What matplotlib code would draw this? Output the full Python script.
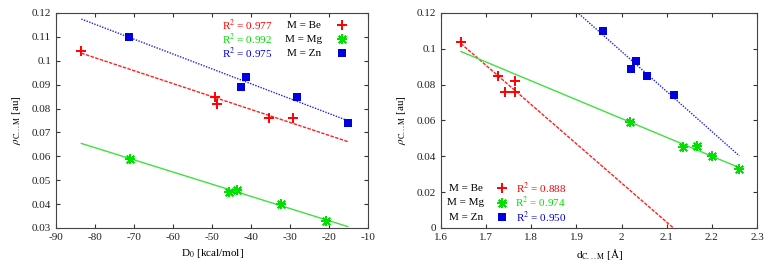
import matplotlib
matplotlib.use("Agg")
import matplotlib.pyplot as plt
import matplotlib.ticker as mticker
import numpy as np

plt.rcParams["font.family"] = ["Liberation Serif", "DejaVu Serif"]
plt.rcParams["mathtext.fontset"] = "stix"
plt.rcParams["font.size"] = 8

# left panel: D0 [kcal/mol] vs rho
d0_be = [-83.5, -49.3, -48.7, -35.4, -29.2]
rho_be = [0.104, 0.085, 0.082, 0.076, 0.076]
d0_mg = [-71.0, -45.6, -43.7, -32.2, -20.9]
rho_mg = [0.059, 0.045, 0.046, 0.040, 0.033]
d0_zn = [-71.3, -42.6, -41.2, -28.3, -15.2]
rho_zn = [0.110, 0.089, 0.093, 0.085, 0.074]

# right panel: d C...M [A] vs rho
dist_be = [1.644, 1.726, 1.764, 1.742, 1.764]
dist_mg = [2.019, 2.137, 2.167, 2.200, 2.261]
dist_zn = [1.959, 2.021, 2.032, 2.057, 2.117]

r2_left = ["0.977", "0.992", "0.975"]
r2_right = ["0.888", "0.974", "0.950"]
metals = ["Be", "Mg", "Zn"]

colors = ["#ff0000", "#00e000", "#0000e0"]
line_colors = ["#ff2020", "#40e040", "#2020e0"]
line_styles = [(0, (2.5, 1)), "-", (0, (1, 1))]
markers = [dict(marker="+", ms=7, mew=1.4),
           dict(marker=(4, 2, 0), ms=7.5, mew=1.1),
           dict(marker="s", ms=6, mew=0)]
markers_x = dict(marker=(4, 2, 45), ms=7.5, mew=1.1)


def style_axes(ax):
    ax.tick_params(direction="in", top=True, right=True, length=3, labelsize=8,
                   colors="#333333", labelcolor="#222222")
    for s in ax.spines.values():
        s.set_color("#444444")
        s.set_linewidth(0.8)
    ax.xaxis.set_major_formatter(mticker.FormatStrFormatter("%g"))
    ax.yaxis.set_major_formatter(mticker.FormatStrFormatter("%g"))


def put_marker(ax, x, y, i, **kw):
    # gnuplot's asterisk is a plus and a cross drawn on top of each other
    ax.plot(x, y, ls="none", color=colors[i], mec=colors[i], mfc=colors[i],
            **markers[i], **kw)
    if i == 1:
        ax.plot(x, y, ls="none", color=colors[i], mec=colors[i], **markers_x, **kw)


def draw_panel(ax, xs, ys):
    x_all = np.concatenate([np.asarray(x) for x in xs])
    x_line = np.linspace(x_all.min(), x_all.max(), 200)
    for i, (x, y) in enumerate(zip(xs, ys)):
        m, b = np.polyfit(x, y, 1)
        ax.plot(x_line, m * x_line + b, color=line_colors[i], lw=1.0,
                ls=line_styles[i], zorder=2)
        put_marker(ax, x, y, i, zorder=3)


fig = plt.figure(figsize=(7.68, 2.64), dpi=100)
ax1 = fig.add_axes([0.0729, 0.1364, 0.4063, 0.8144])
ax2 = fig.add_axes([0.5742, 0.1364, 0.4115, 0.8144])

draw_panel(ax1, [d0_be, d0_mg, d0_zn], [rho_be, rho_mg, rho_zn])
ax1.set_xlim(-90, -10)
ax1.set_ylim(0.03, 0.12)
ax1.set_xticks(np.arange(-90, -9, 10))
ax1.set_yticks(np.arange(0.03, 0.1201, 0.01))
ax1.set_xlabel(r"D$_0$ [kcal/mol]", fontsize=8)
ax1.set_ylabel(r"$\rho_{\mathrm{C...M}}$ [au]", fontsize=8, labelpad=6)
style_axes(ax1)

rows_l = [0.944, 0.878, 0.812]
for i in range(3):
    ax1.text(0.612, rows_l[i], r"R$^2$ = " + r2_left[i], color=colors[i],
             transform=ax1.transAxes, ha="center", va="center", fontsize=8)
    ax1.text(0.795, rows_l[i], f"M = {metals[i]}", transform=ax1.transAxes,
             ha="center", va="center", fontsize=8)
    put_marker(ax1, [0.917], [rows_l[i]], i, transform=ax1.transAxes,
               clip_on=False)

draw_panel(ax2, [dist_be, dist_mg, dist_zn], [rho_be, rho_mg, rho_zn])
ax2.set_xlim(1.6, 2.3)
ax2.set_ylim(0, 0.12)
ax2.set_xticks(np.arange(1.6, 2.301, 0.1))
ax2.set_yticks(np.arange(0, 0.1201, 0.02))
ax2.set_xlabel(r"d$_{\mathrm{C...M}}$ [Å]", fontsize=8)
ax2.set_ylabel(r"$\rho_{\mathrm{C...M}}$ [au]", fontsize=8, labelpad=6)
style_axes(ax2)

rows_r = [0.186, 0.118, 0.051]
for i in range(3):
    ax2.text(0.079, rows_r[i], f"M = {metals[i]}", transform=ax2.transAxes,
             ha="center", va="center", fontsize=8)
    put_marker(ax2, [0.193], [rows_r[i]], i, transform=ax2.transAxes)
    ax2.text(0.316, rows_r[i], r"R$^2$ = " + r2_right[i], color=colors[i],
             transform=ax2.transAxes, ha="center", va="center", fontsize=8)

fig.savefig("out.png", dpi=100)
